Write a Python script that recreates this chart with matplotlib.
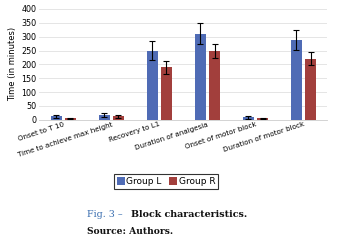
import matplotlib
matplotlib.use('Agg')
import matplotlib.pyplot as plt
import numpy as np

categories = ['Onset to T 10', 'Time to achieve max height', 'Recovery to L1',
              'Duration of analgesia', 'Onset of motor block', 'Duration of motor block']
group_l = [12, 18, 250, 310, 9, 289]
group_l_err = [6, 7, 34, 38, 5, 36]
group_r = [5, 12, 189, 247, 5, 221]
group_r_err = [3, 4, 23, 25, 3, 24]
yticks = [0, 50, 100, 150, 200, 250, 300, 350, 400]

fig = plt.figure(figsize=(3.41, 2.42), dpi=100)
ax = fig.add_axes([0.115, 0.505, 0.845, 0.458])

x = np.arange(len(categories))
w = 0.23
ekw = {'elinewidth': 0.8, 'capthick': 0.8}
ax.bar(x - w / 2 - 0.035, group_l, w, yerr=group_l_err, color='#4f6bb5',
       label='Group L', capsize=2.2, error_kw=ekw)
ax.bar(x + w / 2 + 0.035, group_r, w, yerr=group_r_err, color='#a23f3c',
       label='Group R', capsize=2.2, error_kw=ekw)

ax.set_ylim(0, 400)
ax.set_xlim(-0.5, len(categories) - 0.5)
ax.set_yticks(yticks)
ax.tick_params(axis='y', labelsize=5.8, length=0, pad=2)
ax.tick_params(axis='x', length=0, pad=1)
ax.set_xticks(x)
ax.set_xticklabels(categories, rotation=18, ha='right', rotation_mode='anchor', fontsize=5.1)
ax.set_ylabel('Time (in minutes)', fontsize=6, labelpad=3)
ax.grid(axis='y', color='#e0e0e0', linewidth=0.6)
ax.set_axisbelow(True)
for s in ['top', 'right', 'left']:
    ax.spines[s].set_visible(False)
ax.spines['bottom'].set_color('#cccccc')
ax.spines['bottom'].set_linewidth(0.6)

leg = fig.legend(loc='center', bbox_to_anchor=(0.487, 0.25), ncol=2, fontsize=6.5,
                 frameon=True, fancybox=False, edgecolor='black', handlelength=0.9,
                 handleheight=0.9, handletextpad=0.2, columnspacing=0.8,
                 borderpad=0.3)
leg.get_frame().set_linewidth(0.8)

fig.text(0.255, 0.115, 'Fig. 3 \u2013', color='#3b6fb0', fontsize=6.8,
         family='DejaVu Serif', ha='left', va='center')
fig.text(0.384, 0.115, 'Block characteristics.', color='#111111', fontsize=6.8,
         family='DejaVu Serif', weight='bold', ha='left', va='center')
fig.text(0.255, 0.042, 'Source: Authors.', color='#111111', fontsize=6.6,
         family='DejaVu Serif', weight='bold', ha='left', va='center')

fig.savefig('out.png', dpi=100)
